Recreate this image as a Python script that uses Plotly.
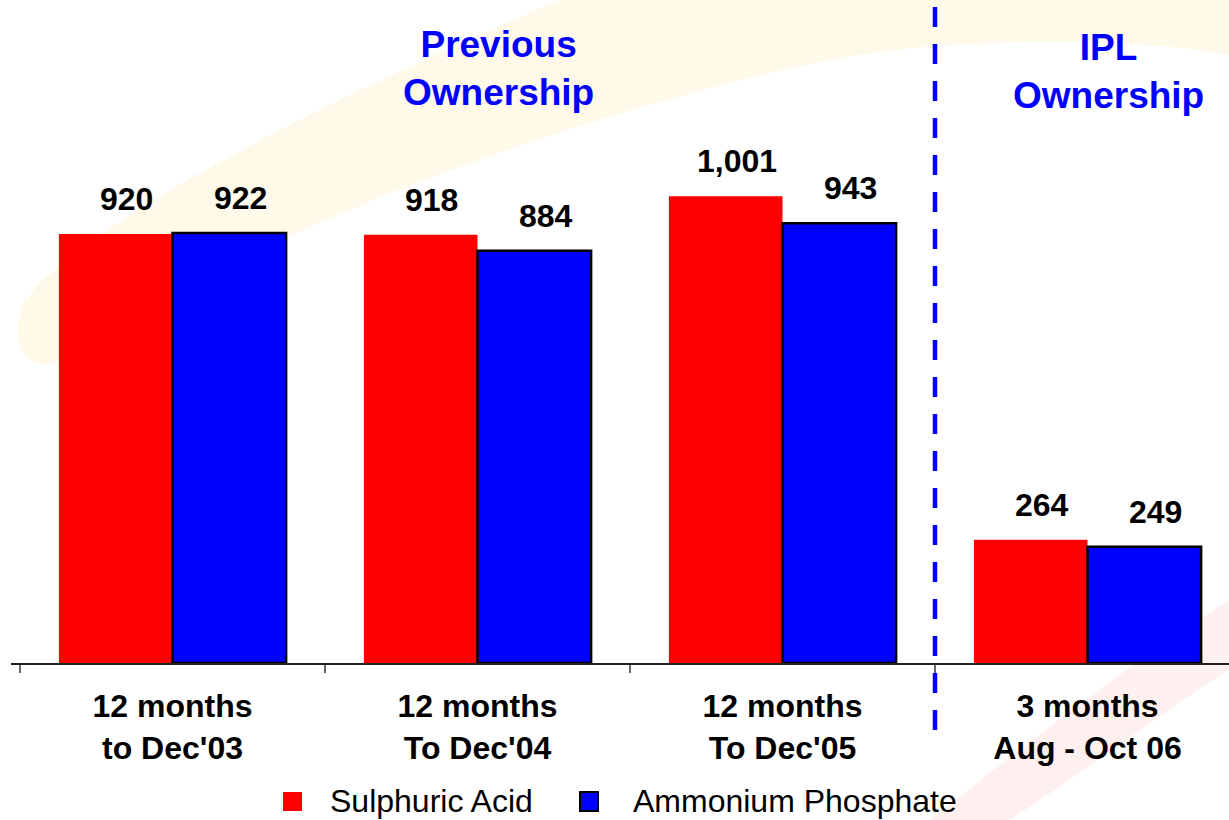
import plotly.graph_objects as go

# ---- data ----
categories = ["12 months<br>to Dec'03", "12 months<br>To Dec'04", "12 months<br>To Dec'05", "3 months<br>Aug - Oct 06"]
sulphuric_acid = [920, 918, 1001, 264]
ammonium_phosphate = [922, 884, 943, 249]
series_names = ["Sulphuric Acid", "Ammonium Phosphate"]
group_titles = ["Previous<br>Ownership", "IPL<br>Ownership"]

W, H = 1229, 820
ML, MT, MB = 11, 0, 157
PW, PH = W - ML, H - MT - MB
GROUP_PX = 305.0
x_lo = -0.5 - 9.0 / GROUP_PX
x_hi = x_lo + PW / GROUP_PX
Y_MAX = 663 / 0.4664

FONT = "Arial, Liberation Sans, sans-serif"
RED = "#FF0000"
BLUE = "#0000FF"


def P(x, y):
    return f"{(x - ML) / PW:.4f},{(PH + MT - y) / PH:.4f}"


fig = go.Figure()
fig.add_trace(go.Bar(x=categories, y=sulphuric_acid, name=series_names[0],
                     marker=dict(color=RED, line=dict(width=0)), showlegend=False))
fig.add_trace(go.Bar(x=categories, y=ammonium_phosphate, name=series_names[1],
                     marker=dict(color=BLUE, line=dict(color="black", width=2.5)), showlegend=False))

anns = []
for i, c in enumerate(categories):
    for v, sh in ((sulphuric_acid[i], -46), (ammonium_phosphate[i], 68)):
        anns.append(dict(x=c, y=v, xref="x", yref="y", text=f"<b>{v:,}</b>", showarrow=False,
                         xshift=sh, yshift=35, yanchor="middle",
                         font=dict(family=FONT, size=32, color="black")))

# ownership titles
anns.append(dict(xref="paper", yref="paper", x=(498 - ML) / PW, y=(663 - 69) / PH,
                 text=f"<b>{group_titles[0]}</b>", showarrow=False, xanchor="center", yanchor="middle",
                 font=dict(family=FONT, size=37, color=BLUE)))
anns.append(dict(xref="paper", yref="paper", x=(1108 - ML) / PW, y=(663 - 72) / PH,
                 text=f"<b>{group_titles[1]}</b>", showarrow=False, xanchor="center", yanchor="middle",
                 font=dict(family=FONT, size=37, color=BLUE)))

# legend texts
anns.append(dict(xref="paper", yref="paper", x=(328 - ML) / PW, y=(663 - 801) / PH,
                 text=series_names[0], showarrow=False, xanchor="left", yanchor="middle",
                 font=dict(family=FONT, size=32, color="black")))
anns.append(dict(xref="paper", yref="paper", x=(631 - ML) / PW, y=(663 - 801) / PH,
                 text=series_names[1], showarrow=False, xanchor="left", yanchor="middle",
                 font=dict(family=FONT, size=32, color="black")))

shapes = [
    # faint yellow swoosh
    dict(type="path", xref="paper", yref="paper", layer="below", line=dict(width=0),
         fillcolor="rgba(255,215,110,0.15)",
         path="M" + P(560, 0) + " L" + P(1229, 0) + " L" + P(1229, 55)
              + " C" + P(1140, 38) + " " + P(960, 36) + " " + P(840, 58)
              + " C" + P(600, 105) + " " + P(250, 230) + " " + P(80, 350)
              + " C" + P(40, 380) + " " + P(5, 360) + " " + P(22, 305)
              + " C" + P(80, 220) + " " + P(350, 90) + " " + P(560, 0) + " Z"),
    # faint red swoosh
    dict(type="path", xref="paper", yref="paper", layer="below", line=dict(width=0),
         fillcolor="rgba(255,60,60,0.08)",
         path="M" + P(930, 820) + " L" + P(1010, 820)
              + " C" + P(1100, 760) + " " + P(1180, 700) + " " + P(1229, 670)
              + " L" + P(1229, 600)
              + " C" + P(1150, 650) + " " + P(1030, 740) + " " + P(930, 820) + " Z"),
    # dashed divider
    dict(type="line", xref="x", yref="paper", x0=2.5, x1=2.5, y0=(663 - 7) / PH, y1=(663 - 730) / PH,
         line=dict(color=BLUE, width=4.5, dash="20px,17px")),
    # legend squares
    dict(type="rect", xref="paper", yref="paper", x0=(283 - ML) / PW, x1=(302 - ML) / PW,
         y0=(663 - 792) / PH, y1=(663 - 811) / PH, fillcolor=RED, line=dict(width=0)),
    dict(type="rect", xref="paper", yref="paper", x0=(580 - ML) / PW, x1=(598 - ML) / PW,
         y0=(663 - 792) / PH, y1=(663 - 811) / PH, fillcolor=BLUE, line=dict(color="black", width=2)),
]

fig.update_layout(
    width=W, height=H,
    margin=dict(l=ML, r=0, t=MT, b=MB, pad=0),
    paper_bgcolor="white", plot_bgcolor="rgba(0,0,0,0)",
    barmode="group", bargap=0.255, bargroupgap=0,
    annotations=anns, shapes=shapes,
    xaxis=dict(type="category", range=[x_lo, x_hi], showgrid=False, zeroline=False,
               showline=True, linecolor="#222", linewidth=1.5,
               ticks="outside", tickson="boundaries", ticklen=8, tickcolor="#666", tickwidth=1.5,
               tickfont=dict(family=FONT, size=32, color="black"), ticklabelstandoff=14,
               tickprefix="<b>", ticksuffix="</b>"),
    yaxis=dict(range=[0, Y_MAX], visible=False, showgrid=False, zeroline=False),
    showlegend=False,
)

fig.write_html("out.html")
